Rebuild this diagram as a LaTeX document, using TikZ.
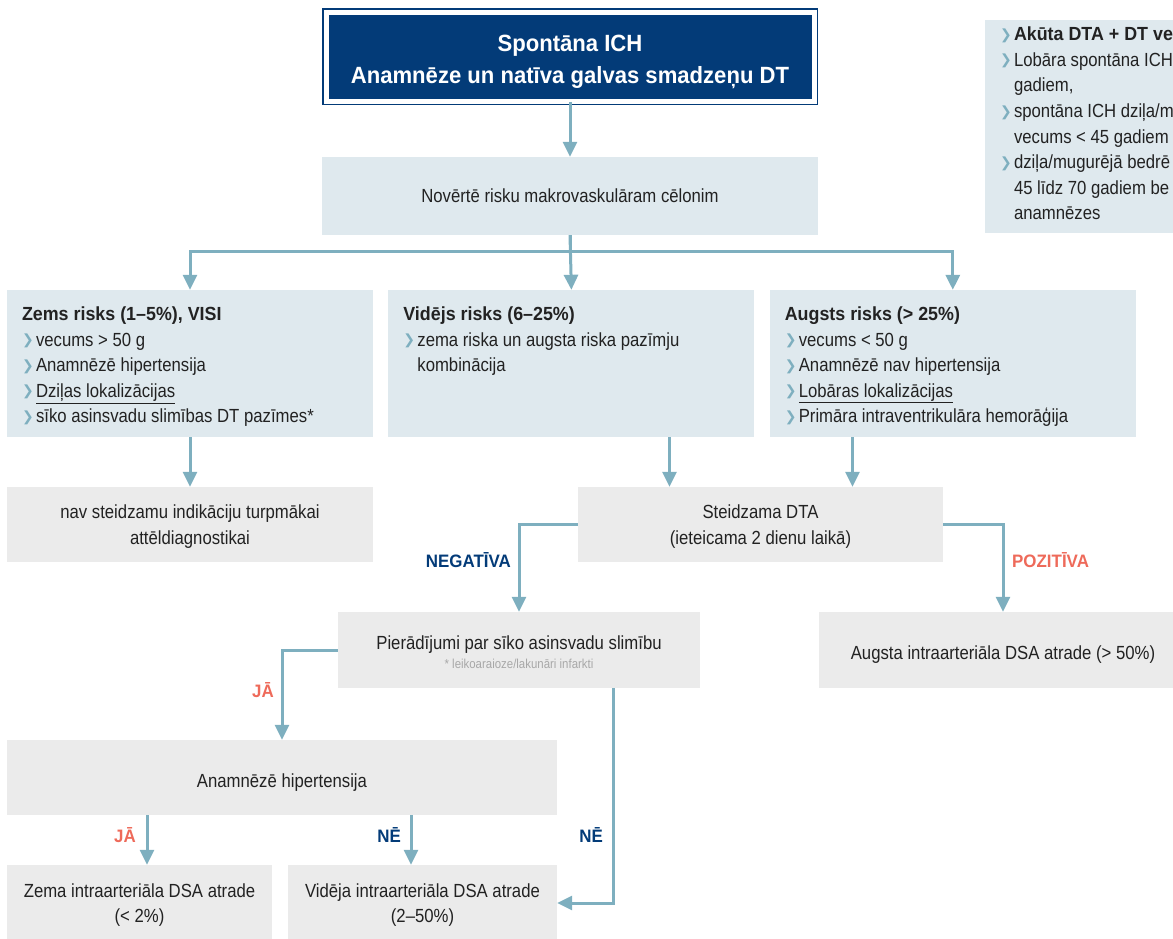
\documentclass[tikz,border=0pt]{standalone}
\usepackage{fontspec}
\setmainfont{Liberation Sans}[UprightFeatures={FakeStretch=0.88}, BoldFeatures={FakeStretch=0.94}]
\newfontfamily\symfont{DejaVu Sans}
\usetikzlibrary{positioning,calc,arrows.meta}

\definecolor{navy}{HTML}{033B78}
\definecolor{salmon}{HTML}{EE6A5A}
\definecolor{arrowc}{HTML}{7EAFBF}
\definecolor{paleblue}{HTML}{DFE9EE}
\definecolor{palegray}{HTML}{EBEBEB}
\definecolor{ink}{HTML}{222222}
\definecolor{notegray}{HTML}{A8A8A8}

\newcommand{\chev}{\makebox[14pt][l]{\raisebox{1.5pt}{\textcolor{arrowc}{\symfont\fontsize{14}{14}\selectfont ❯}}}}
\newcommand{\chevskip}{\hspace*{14pt}}

\begin{document}
\begin{tikzpicture}[x=1pt, y=-1pt,
    every node/.style={font=\fontsize{19}{25.5}\selectfont, text=ink, inner sep=0pt},
    bluebox/.style={fill=paleblue, minimum width=366pt, minimum height=147pt},
    graybox/.style={fill=palegray, minimum height=75pt, align=center},
    flow/.style={draw=arrowc, line width=3pt, -{Triangle[width=14pt, length=15pt]}},
    tag/.style={font=\bfseries\fontsize{18}{20}\selectfont}]
    \useasboundingbox (0,0) rectangle (1173,938);
    \clip (0,0) rectangle (1173,938);

    % Start and assessment
    \node[fill=navy, draw=navy, double=white, double distance=5pt, line width=1.5pt, minimum width=488pt, minimum height=89pt, align=center, text=white, font=\bfseries\fontsize{23.5}{32}\selectfont] (ich) at (570,56.5) {\rule{0pt}{27pt}Spontāna ICH\\Anamnēze un natīva galvas smadzeņu DT};
    \node[fill=paleblue, minimum width=496pt, minimum height=78pt] (assess) at (570,196) {Novērtē risku makrovaskulāram cēlonim};

    % Side note
    \node[fill=paleblue, minimum width=215pt, minimum height=213pt] (info) at (1092.5,126.5) {};
    \node[anchor=north west, align=left, font=\fontsize{19}{25.6}\selectfont] (infotxt) at ($(info.north west)+(15,7)$) {\chev\textbf{Akūta DTA + DT ve}\\\chev Lobāra spontāna ICH\\\chevskip gadiem,\\\chev spontāna ICH dziļa/m\\\chevskip vecums < 45 gadiem\\\chev dziļa/mugurējā bedrē\\\chevskip 45 līdz 70 gadiem be\\\chevskip anamnēzes};

    % Risk groups
    \node[bluebox] (low) at (190,363.5) {};
    \node[bluebox, right=15pt of low] (mid) {};
    \node[bluebox, right=15pt of mid] (high) {};
    \node[anchor=north west, align=left] (lowtxt) at ($(low.north west)+(15,17)$) {\textbf{Zems risks (1–5\%), VISI}\\\chev vecums > 50 g\\\chev Anamnēzē hipertensija\\\chev\underline{Dziļas lokalizācijas}\\\chev sīko asinsvadu slimības DT pazīmes*};
    \node[anchor=north west, align=left] (midtxt) at ($(mid.north west)+(15,17)$) {\textbf{Vidējs risks (6–25\%)}\\\chev zema riska un augsta riska pazīmju\\\chevskip kombinācija};
    \node[anchor=north west, align=left] (hightxt) at ($(high.north west)+(15,17)$) {\textbf{Augsts risks (> 25\%)}\\\chev vecums < 50 g\\\chev Anamnēzē nav hipertensija\\\chev\underline{Lobāras lokalizācijas}\\\chev Primāra intraventrikulāra hemorāģija};

    % Next steps
    \node[graybox, minimum width=366pt] (none) at (190,524.5) {\rule{0pt}{18pt}nav steidzamu indikāciju turpmākai\\attēldiagnostikai};
    \node[graybox, minimum width=365pt] (urgent) at (760.5,524.5) {\rule{0pt}{18pt}Steidzama DTA\\(ieteicama 2 dienu laikā)};
    \node[graybox, minimum width=362pt, minimum height=76pt] (pier) at (519,650) {\rule{0pt}{18pt}Pierādījumi par sīko asinsvadu slimību\\[-7pt]{\color{notegray}\fontsize{13}{15}\selectfont * leikoaraioze/lakunāri infarkti}};
    \node[graybox, minimum width=368pt, minimum height=76pt] (highda) at (1003,650) {\rule{0pt}{23pt}Augsta intraarteriāla DSA atrade (> 50\%)};
    \node[graybox, minimum width=550pt] (hyp) at (282,777.5) {\rule{0pt}{23pt}Anamnēzē hipertensija};
    \node[graybox, minimum width=265pt, minimum height=76pt] (lowda) at (139.5,903) {\rule{0pt}{18pt}Zema intraarteriāla DSA atrade\\(< 2\%)};
    \node[graybox, minimum width=269pt, minimum height=76pt] (mida) at (422.5,903) {\rule{0pt}{18pt}Vidēja intraarteriāla DSA atrade\\(2–50\%)};

    % Connectors
    \draw[flow] (ich.south) -- (assess.north);
    \draw[flow] (assess.south) -- ++(0,16) -| (low.north);
    \draw[flow] (assess.south) -- (mid.north);
    \draw[flow] (assess.south) -- ++(0,16) -| (high.north);
    \draw[flow] (low.south) -- (none.north);
    \coordinate (u1) at ($(urgent.north)+(-91,0)$);
    \coordinate (u2) at ($(urgent.north)+(92,0)$);
    \draw[flow] (mid.south -| u1) -- (u1);
    \draw[flow] (high.south -| u2) -- (u2);
    \draw[flow] (urgent.west) -| (pier.north);
    \draw[flow] (urgent.east) -| (highda.north);
    \draw[flow] (pier.west) -| (hyp.north);
    \coordinate (p1) at ($(pier.south)+(94,0)$);
    \draw[flow] (p1) |- (mida.east);
    \coordinate (h1) at ($(lowda.north)+(7.5,0)$);
    \coordinate (h2) at ($(mida.north)+(-11.5,0)$);
    \draw[flow] (hyp.south -| h1) -- (h1);
    \draw[flow] (hyp.south -| h2) -- (h2);

    % Answers
    \node[tag, text=navy, anchor=east] (neg) at ($(pier.north)+(-8,-52)$) {NEGATĪVA};
    \node[tag, text=salmon, anchor=west] (pos) at ($(highda.north)+(9,-52)$) {POZITĪVA};
    \node[tag, text=salmon, anchor=east] (yes1) at ($(hyp.north)+(-8,-50)$) {JĀ};
    \node[tag, text=navy, anchor=east] (no1) at ($(p1)+(-10,147)$) {NĒ};
    \node[tag, text=salmon, anchor=east] (yes2) at ($(h1)+(-11,-30)$) {JĀ};
    \node[tag, text=navy, anchor=east] (no2) at ($(h2)+(-10,-30)$) {NĒ};
\end{tikzpicture}
\end{document}
